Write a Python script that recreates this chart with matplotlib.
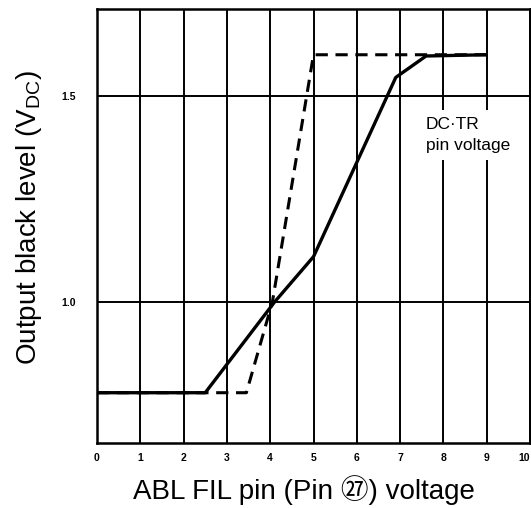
import matplotlib
matplotlib.use("Agg")
import matplotlib.pyplot as plt

# Data
solid_x = [0.0, 2.5, 4.1, 5.0, 6.9, 7.6, 9.0]
solid_y = [0.78, 0.78, 1.0, 1.11, 1.545, 1.597, 1.60]
dash_x = [0.0, 3.45, 4.05, 5.0, 9.0]
dash_y = [0.78, 0.78, 1.0, 1.60, 1.60]
x_ticks = [0, 1, 2, 3, 4, 5, 6, 7, 8, 9, 10]
y_ticks = [1.0, 1.5]
y_tick_labels = ["1.0", "1.5"]

fam = ['Liberation Sans', 'Noto Sans CJK JP', 'DejaVu Sans']

fig = plt.figure(figsize=(5.31, 5.08), dpi=100)
ax = fig.add_axes([97 / 531, 65 / 508, 433 / 531, 434 / 508])
ax.set_xlim(0, 10)
ax.set_ylim(0.658, 1.711)

for xv in x_ticks:
    ax.axvline(xv, color='black', lw=1.4, zorder=1)
for yv in y_ticks:
    ax.axhline(yv, color='black', lw=1.4, zorder=1)

ax.plot(solid_x, solid_y, color='black', lw=2.4, zorder=3, solid_capstyle='butt')
ax.plot(dash_x, dash_y, color='black', lw=2.2, ls=(0, (4, 2.5)), zorder=3)

ax.text(7.6, 1.405, "DC·TR\npin voltage", fontsize=12.5, family=fam,
        ha='left', va='center', linespacing=1.45, zorder=4,
        bbox=dict(boxstyle='square,pad=0.4', fc='white', ec='none'))

ax.set_xticks(x_ticks)
ax.set_xticklabels([str(v) for v in x_ticks], fontsize=7.5, fontweight='bold', family=fam)
ax.get_xticklabels()[-1].set_horizontalalignment('right')
ax.set_yticks(y_ticks)
ax.set_yticklabels(y_tick_labels, fontsize=7.5, fontweight='bold', family=fam)
ax.tick_params(axis='x', length=0, pad=7)
ax.tick_params(axis='y', length=0, pad=15)
for s in ax.spines.values():
    s.set_linewidth(1.8)

ax.set_xlabel("ABL FIL pin (Pin ㉗) voltage", fontsize=20, family=fam)
ax.xaxis.set_label_coords(0.478, -0.074)
ax.set_ylabel("Output black level (V$_{\\mathregular{DC}}$)", fontsize=20, family=fam)
ax.yaxis.set_label_coords(-0.122, 0.52)

fig.savefig("out.png", dpi=100)
